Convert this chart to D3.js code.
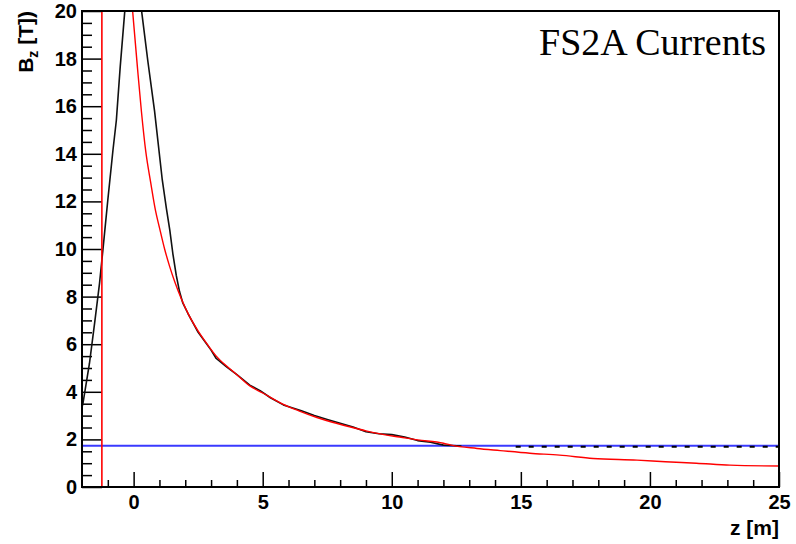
<!DOCTYPE html>
<html>
<head>
<meta charset="utf-8">
<script src="https://cdn.jsdelivr.net/npm/d3@7"></script>
<style>
  body { margin: 0; background: #fff; }
  .tick text { font-family: "Liberation Sans", Arial, sans-serif; font-weight: bold; font-size: 20px; fill: #000; }
  .axis-label { font-family: "Liberation Sans", Arial, sans-serif; font-weight: bold; font-size: 21px; fill: #000; }
  .title { font-family: "Liberation Serif", "Times New Roman", serif; font-size: 38px; fill: #000; }
</style>
</head>
<body>
<svg width="796" height="544"></svg>
<script>
// field map values
const blackZ = [-2.0, -1.96, -1.71, -1.51, -1.32, -1.19, -1.0, -0.8, -0.67, -0.52, -0.35, -0.04, 0.32, 0.55, 0.81, 1.11, 1.27, 1.4, 1.52, 1.65, 1.78, 1.9, 2.1, 2.5, 3.0, 3.2, 3.6, 4.0, 4.5, 4.9, 5.3, 5.8, 6.5, 7.0, 7.5, 8.0, 8.5, 9.0, 9.5, 10.0, 10.5, 11.0, 11.5, 12.0, 12.7];
const blackB = [3.35, 3.53, 5.2, 6.9, 8.57, 9.96, 12.06, 14.16, 15.4, 17.65, 19.9, 23.5, 19.9, 17.9, 15.8, 12.9, 11.7, 10.8, 9.8, 8.9, 8.2, 7.75, 7.3, 6.5, 5.75, 5.4, 5.05, 4.72, 4.28, 4.05, 3.75, 3.45, 3.2, 3.0, 2.84, 2.68, 2.52, 2.32, 2.24, 2.2, 2.1, 1.95, 1.88, 1.76, 1.72];

const redZ = [-0.1, 0.0, 0.15, 0.3, 0.47, 0.66, 0.85, 1.0, 1.2, 1.4, 1.6, 1.85, 2.15, 2.5, 2.85, 3.2, 3.6, 4.0, 4.5, 5.0, 5.8, 6.4, 7.1, 7.7, 8.4, 9.0, 9.7, 10.3, 11.0, 12.0, 12.3, 13.3, 14.2, 15.35, 16.5, 17.8, 19.5, 20.6, 21.8, 23.1, 25.0];
const redB = [20.8, 19.5, 17.6, 15.8, 14.1, 12.8, 11.6, 10.9, 10.0, 9.25, 8.6, 7.9, 7.2, 6.55, 6.0, 5.5, 5.08, 4.72, 4.25, 3.95, 3.47, 3.2, 2.92, 2.72, 2.52, 2.36, 2.2, 2.1, 1.98, 1.84, 1.76, 1.62, 1.53, 1.42, 1.34, 1.2, 1.13, 1.06, 1.0, 0.92, 0.88];

const dashZ = [14.8, 25.0];
const dashB = [1.69, 1.69];

const blueLevel = 1.73;
const redMarkerZ = -1.23;

const xMajor = [0, 5, 10, 15, 20, 25];
const yMajor = [0, 2, 4, 6, 8, 10, 12, 14, 16, 18, 20];

const svg = d3.select('svg');
const margin = {top: 11, right: 17, bottom: 57, left: 82};
const width = +svg.attr('width');
const height = +svg.attr('height');
const innerWidth = width - margin.left - margin.right;
const innerHeight = height - margin.top - margin.bottom;

const xScale = d3.scaleLinear().domain([-2, 25]).range([0, innerWidth]);
const yScale = d3.scaleLinear().domain([0, 20]).range([innerHeight, 0]);

const g = svg.append('g')
  .attr('transform', `translate(${margin.left},${margin.top})`);

g.append('clipPath').attr('id', 'clip')
  .append('rect').attr('width', innerWidth).attr('height', innerHeight);

// ticks
const xMinor = d3.range(-1, 26).filter(v => !xMajor.includes(v));
const yMinor = d3.range(0, 20.01, 0.5).filter(v => !yMajor.includes(v));

g.append('g').attr('transform', `translate(0,${innerHeight})`)
  .call(d3.axisBottom(xScale).tickValues(xMinor).tickSize(-7).tickFormat(''))
  .call(a => a.select('.domain').remove())
  .call(a => a.selectAll('text').remove());

const xAxisG = g.append('g').attr('transform', `translate(0,${innerHeight})`)
  .call(d3.axisBottom(xScale).tickValues(xMajor).tickSize(-15).tickPadding(8));
xAxisG.select('.domain').remove();

g.append('g')
  .call(d3.axisLeft(yScale).tickValues(yMinor).tickSize(-10).tickFormat(''))
  .call(a => a.select('.domain').remove())
  .call(a => a.selectAll('text').remove());

const yAxisG = g.append('g')
  .call(d3.axisLeft(yScale).tickValues(yMajor).tickSize(-20).tickPadding(5));
yAxisG.select('.domain').remove();

g.selectAll('.tick line').attr('stroke', '#000').attr('stroke-width', 1.5);

// curves
const plot = g.append('g').attr('clip-path', 'url(#clip)');
const line = d3.line()
  .x(d => xScale(d[0]))
  .y(d => yScale(d[1]));

plot.append('line')
  .attr('x1', xScale(-2)).attr('x2', xScale(25))
  .attr('y1', yScale(blueLevel)).attr('y2', yScale(blueLevel))
  .attr('stroke', '#3a3aff').attr('stroke-width', 2);

plot.append('path')
  .datum(d3.zip(blackZ, blackB))
  .attr('d', line)
  .attr('fill', 'none').attr('stroke', '#111').attr('stroke-width', 1.6)
  .attr('stroke-linejoin', 'round');

plot.append('path')
  .datum(d3.zip(redZ, redB))
  .attr('d', line.curve(d3.curveMonotoneX))
  .attr('fill', 'none').attr('stroke', '#ff0000').attr('stroke-width', 1.4);

plot.append('line')
  .attr('x1', xScale(redMarkerZ)).attr('x2', xScale(redMarkerZ))
  .attr('y1', yScale(0)).attr('y2', yScale(20))
  .attr('stroke', '#ff0000').attr('stroke-width', 1.6);

plot.append('path')
  .datum(d3.zip(dashZ, dashB))
  .attr('d', d3.line().x(d => xScale(d[0])).y(d => yScale(d[1])))
  .attr('fill', 'none').attr('stroke', '#000').attr('stroke-width', 2)
  .attr('stroke-dasharray', '5,8');

// frame
g.append('rect')
  .attr('width', innerWidth).attr('height', innerHeight)
  .attr('fill', 'none').attr('stroke', '#000').attr('stroke-width', 2);

// axis titles
const yLabel = g.append('text')
  .attr('class', 'axis-label')
  .attr('transform', 'rotate(-90)')
  .attr('x', 0)
  .attr('y', -49)
  .attr('text-anchor', 'end');
yLabel.append('tspan').text('B');
yLabel.append('tspan').attr('dy', 5).attr('font-size', 14).text('z');
yLabel.append('tspan').attr('dy', -5).text(' [T])');

g.append('text')
  .attr('class', 'axis-label')
  .attr('x', innerWidth)
  .attr('y', innerHeight + 48)
  .attr('text-anchor', 'end')
  .text('z [m]');

g.append('text')
  .attr('class', 'title')
  .attr('x', innerWidth - 13)
  .attr('y', 44)
  .attr('text-anchor', 'end')
  .text('FS2A Currents');
</script>
</body>
</html>
